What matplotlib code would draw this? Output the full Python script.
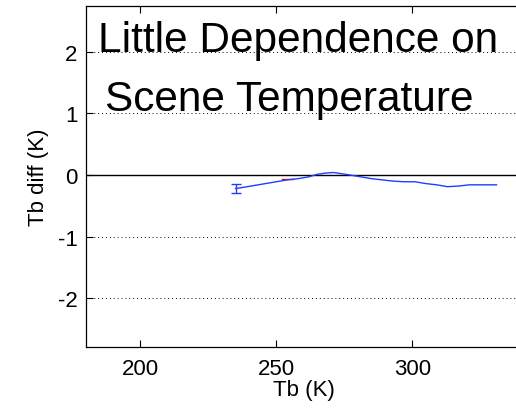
import numpy as np
import matplotlib.pyplot as plt

plt.rcParams['font.family'] = ['Liberation Sans', 'DejaVu Sans']
plt.rcParams['axes.unicode_minus'] = False

# Tb vs Tb difference
tb = [235, 238, 242, 246, 250, 254, 258, 262, 265, 268, 271, 274, 277,
      281, 285, 289, 293, 297, 301, 305, 309, 313, 317, 321, 325, 329, 331]
tb_diff = [-0.22, -0.20, -0.17, -0.14, -0.11, -0.08, -0.06, -0.03, 0.01,
           0.03, 0.04, 0.02, 0.0, -0.03, -0.06, -0.08, -0.10, -0.11, -0.11,
           -0.14, -0.16, -0.19, -0.18, -0.16, -0.16, -0.16, -0.16]
err_tb = [235]
err_diff = [-0.22]
err_size = [0.07]

# short red segment mostly hidden under the blue line
red_tb = [252, 256]
red_diff = [-0.06, -0.06]

xticks = [200, 250, 300]
yticks = [-2, -1, 0, 1, 2]

fig = plt.figure(figsize=(5.16, 4.14), dpi=100)
ax = fig.add_axes([0.1667, 0.1594, 0.843, 0.8237])

ax.axhline(0, color='black', lw=1.0, zorder=1)
ax.plot(red_tb, red_diff, color='red', lw=1.0, zorder=2)
ax.plot(tb, tb_diff, color='#1f3fff', lw=1.0, zorder=3)
ax.errorbar(err_tb, err_diff, yerr=err_size, fmt='none', ecolor='#1f3fff',
            elinewidth=1.0, capsize=3.6, capthick=1.0, zorder=3)

ax.set_xlim(180, 340)
ax.set_ylim(-2.79, 2.74)
ax.set_xticks(xticks)
ax.set_yticks(yticks)

for y in [-2, -1, 1, 2]:
    ax.axhline(y, color='black', lw=0.7, linestyle=(0, (1, 3)), zorder=0)

ax.tick_params(direction='in', length=5, width=0.8, labelsize=16,
               top=True, right=False, pad=8)
ax.tick_params(axis='y', pad=6)
for s in ax.spines.values():
    s.set_linewidth(0.9)
ax.spines['right'].set_visible(False)

ax.set_xlabel('Tb (K)', fontsize=16, labelpad=0)
ax.set_ylabel('Tb diff (K)', fontsize=16, labelpad=6)

ax.text(184.4, 2.01, 'Little Dependence on', fontsize=30.5,
        ha='left', va='baseline')
ax.text(187.0, 1.05, 'Scene Temperature', fontsize=30.5,
        ha='left', va='baseline')

fig.savefig('out.png', dpi=100)
